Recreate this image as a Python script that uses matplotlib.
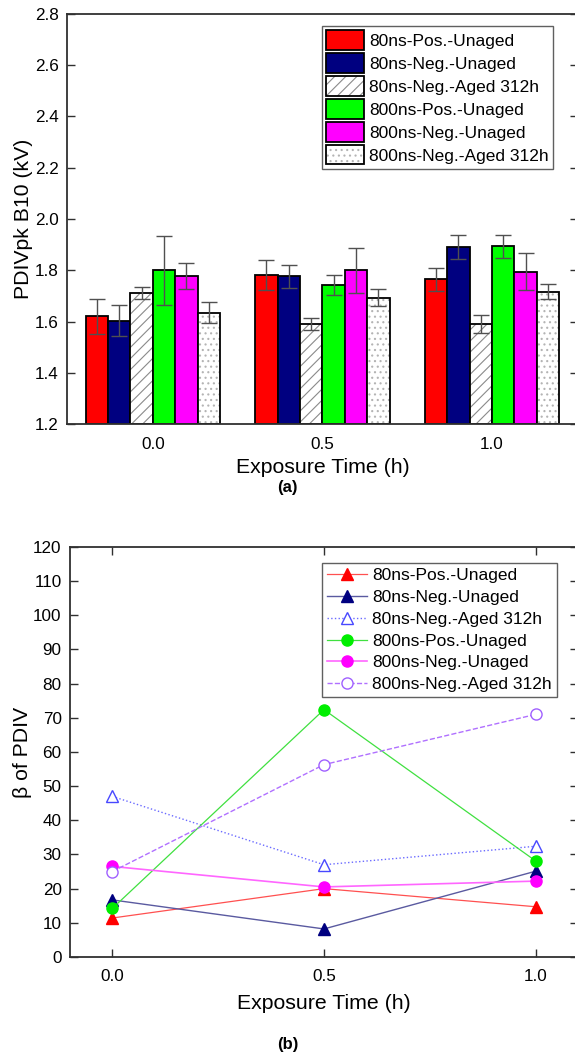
import matplotlib
matplotlib.use("Agg")
import matplotlib.pyplot as plt
from matplotlib.patches import Patch
import numpy as np

plt.rcParams['font.family'] = ['Liberation Sans', 'DejaVu Sans']
plt.rcParams['hatch.linewidth'] = 0.8

# ---- data ----
times = [0.0, 0.5, 1.0]
series = ['80ns-Pos.-Unaged', '80ns-Neg.-Unaged', '80ns-Neg.-Aged 312h',
          '800ns-Pos.-Unaged', '800ns-Neg.-Unaged', '800ns-Neg.-Aged 312h']

# (a) PDIVpk B10 (kV), one list per series over times
pdiv_80_pos = [1.621, 1.781, 1.764]
pdiv_80_neg = [1.603, 1.777, 1.890]
pdiv_80_aged = [1.711, 1.590, 1.590]
pdiv_800_pos = [1.800, 1.742, 1.893]
pdiv_800_neg = [1.778, 1.800, 1.795]
pdiv_800_aged = [1.635, 1.693, 1.716]

err_80_pos = [0.068, 0.058, 0.044]
err_80_neg = [0.060, 0.045, 0.047]
err_80_aged = [0.022, 0.023, 0.036]
err_800_pos = [0.134, 0.039, 0.045]
err_800_neg = [0.050, 0.088, 0.071]
err_800_aged = [0.042, 0.033, 0.029]

# (b) beta of PDIV
beta_80_pos = [11.4, 20.0, 14.7]
beta_80_neg = [16.7, 8.2, 25.1]
beta_80_aged = [47.0, 27.0, 32.4]
beta_800_pos = [14.2, 72.4, 28.1]
beta_800_neg = [26.5, 20.5, 22.2]
beta_800_aged = [25.0, 56.3, 71.0]

pdiv = [pdiv_80_pos, pdiv_80_neg, pdiv_80_aged, pdiv_800_pos, pdiv_800_neg, pdiv_800_aged]
errs = [err_80_pos, err_80_neg, err_80_aged, err_800_pos, err_800_neg, err_800_aged]
betas = [beta_80_pos, beta_80_neg, beta_80_aged, beta_800_pos, beta_800_neg, beta_800_aged]

fig = plt.figure(figsize=(5.75, 10.58), dpi=100)
spine_c = '#303030'

# ---------------- (a) bar chart ----------------
ax1 = fig.add_axes([0.1165, 0.5992, 0.8885, 0.3876])
bar_fill = ['#ff0000', '#000080', 'white', '#00ff00', '#ff00ff', 'white']
bar_hatch = [None, None, '///', None, None, '...']
hatch_c = [None, None, '#8a8a8a', None, None, '#b4b4b4']
w = 0.066
x = np.array(times)
handles = []
for i, (vals, e) in enumerate(zip(pdiv, errs)):
    pos = x + (i - 2.5) * w
    if bar_hatch[i]:
        ax1.bar(pos, np.array(vals) - 1.2, w, bottom=1.2, color='white',
                edgecolor=hatch_c[i], hatch=bar_hatch[i], linewidth=0)
        ax1.bar(pos, np.array(vals) - 1.2, w, bottom=1.2, fill=False,
                edgecolor='black', linewidth=1.3)
        h = (Patch(facecolor='white', edgecolor=hatch_c[i], hatch=bar_hatch[i], linewidth=0),
             Patch(fill=False, edgecolor='black', linewidth=1.3))
    else:
        ax1.bar(pos, np.array(vals) - 1.2, w, bottom=1.2, color=bar_fill[i],
                edgecolor='black', linewidth=1.3)
        h = Patch(facecolor=bar_fill[i], edgecolor='black', linewidth=1.3)
    ax1.errorbar(pos, vals, yerr=e, fmt='none', ecolor='#505050',
                 elinewidth=1.0, capsize=5.5, capthick=1.0)
    handles.append(h)

ax1.set_xlim(-0.253, 1.253)
ax1.set_ylim(1.2, 2.8)
ax1.set_yticks(np.arange(1.2, 2.81, 0.2))
ax1.set_yticklabels(['%.1f' % v for v in np.arange(1.2, 2.81, 0.2)])
ax1.set_xticks(times)
ax1.set_xticklabels(['0.0', '0.5', '1.0'])
ax1.tick_params(axis='x', length=0, pad=9, labelsize=12.3)
ax1.tick_params(axis='y', direction='in', left=True, right=True, length=6,
                width=1.0, color=spine_c, labelsize=12.3, pad=6)
for s in ax1.spines.values():
    s.set_linewidth(1.3)
    s.set_color(spine_c)
ax1.set_xlabel('Exposure Time (h)', fontsize=15.3, labelpad=5)
ax1.set_ylabel('PDIVpk B10 (kV)', fontsize=15.3, labelpad=1)
leg1 = ax1.legend(handles, series, loc='upper right', bbox_to_anchor=(0.951, 0.971),
                  borderaxespad=0, fontsize=12.5, handlelength=2.15, handleheight=1.35,
                  labelspacing=0.2, handletextpad=0.3, borderpad=0.25,
                  fancybox=False, framealpha=1, edgecolor='#606060')
leg1.get_frame().set_linewidth(1.0)

fig.text(0.5, 1 - 487 / 1058, '(a)', ha='center', va='center', fontsize=12, fontweight='bold')

# ---------------- (b) line chart ----------------
ax2 = fig.add_axes([0.1217, 0.0955, 0.8835, 0.3875])
line_c = ['#ff5050', '#5a5aa0', '#6a6aff', '#40e040', '#ff66ff', '#b070ff']
mk = ['^', '^', '^', 'o', 'o', 'o']
mfc = ['#ff0000', '#000080', 'white', '#00ee00', '#ff00ff', 'white']
mec = ['#ff0000', '#000080', '#4848ff', '#00ee00', '#ff00ff', '#a060ff']
ls = ['-', '-', ':', '-', '-', '--']
lw = [0.9, 1.0, 1.0, 0.9, 1.2, 1.0]
ms = [9, 9, 9, 8, 8, 8]
for i, vals in enumerate(betas):
    ax2.plot(times, vals, color=line_c[i], linestyle=ls[i], linewidth=lw[i],
             marker=mk[i], markersize=ms[i], markerfacecolor=mfc[i],
             markeredgecolor=mec[i], markeredgewidth=1.0, label=series[i])

ax2.set_xlim(-0.1, 1.1)
ax2.set_ylim(0, 120)
ax2.set_xticks(times)
ax2.set_xticklabels(['0.0', '0.5', '1.0'])
ax2.set_yticks(np.arange(0, 121, 10))
ax2.tick_params(direction='in', top=True, right=True, length=6, width=1.0,
                color=spine_c, labelsize=12.3)
ax2.tick_params(axis='x', pad=9)
ax2.tick_params(axis='y', pad=6)
for s in ax2.spines.values():
    s.set_linewidth(1.3)
    s.set_color(spine_c)
ax2.set_xlabel('Exposure Time (h)', fontsize=15.3, labelpad=7)
ax2.set_ylabel('β of PDIV', fontsize=15.3, labelpad=1)
leg2 = ax2.legend(loc='upper right', bbox_to_anchor=(0.959, 0.961),
                  borderaxespad=0, fontsize=12.5, handlelength=2.3,
                  labelspacing=0.38, handletextpad=0.3, borderpad=0.3,
                  fancybox=False, framealpha=1, edgecolor='#606060')
leg2.get_frame().set_linewidth(1.0)

fig.text(0.5, 1 - 1045 / 1058, '(b)', ha='center', va='center', fontsize=12, fontweight='bold')

fig.savefig('out.png', dpi=100)
